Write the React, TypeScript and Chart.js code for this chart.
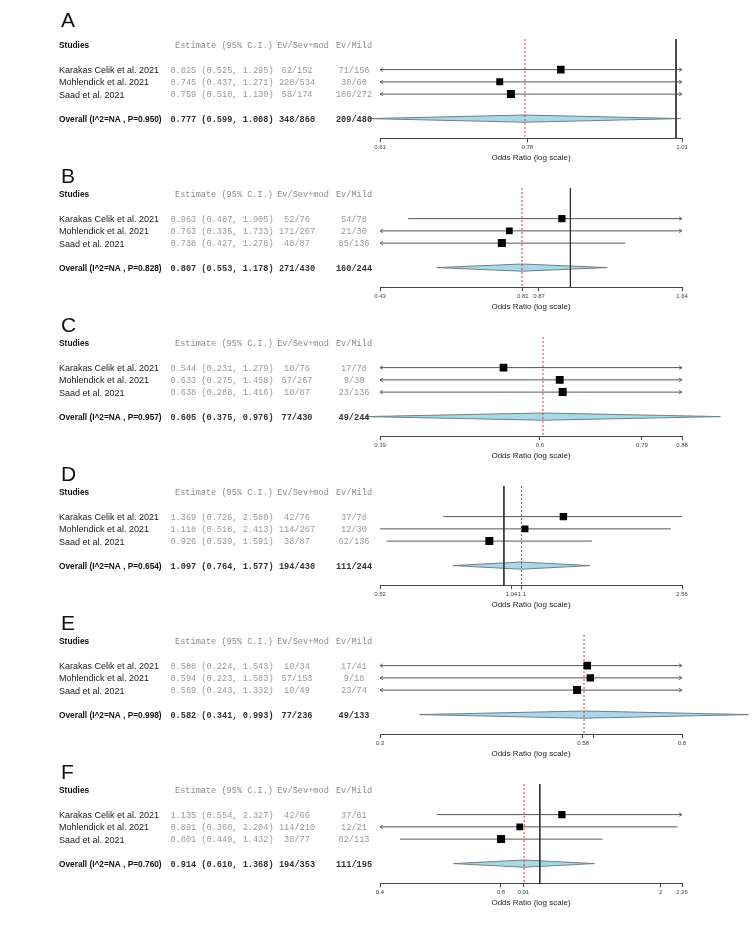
import React, { useEffect, useRef } from 'react';
import { Chart, registerables } from 'chart.js';

Chart.register(...registerables);

// ---------- data ----------
const studyNames = ['Karakas Celik et al. 2021', 'Mohlendick et al. 2021', 'Saad et al. 2021'];
const panelLetters = ['A', 'B', 'C', 'D', 'E', 'F'];
const pValues = ['0.950', '0.828', '0.957', '0.654', '0.998', '0.760'];
const sevHeaders = ['Ev/Sev+mod', 'Ev/Sev+mod', 'Ev/Sev+mod', 'Ev/Sev+mod', 'Ev/Sev+Mod', 'Ev/Sev+mod'];
const showArrows = [true, true, true, false, true, true];

const estimatesA = [0.825, 0.745, 0.759];
const lowerA = [0.525, 0.437, 0.510];
const upperA = [1.295, 1.271, 1.130];
const sevA = ['62/152', '228/534', '58/174'];
const mildA = ['71/156', '30/60', '108/272'];
const overallA = [0.777, 0.599, 1.008];
const overallEventsA = ['348/860', '209/480'];
const ticksA = [0.61, 0.78, 1.01];
const tickLabelsA = ['0.61', '0.78', '1.01'];

const estimatesB = [0.963, 0.763, 0.738];
const lowerB = [0.487, 0.336, 0.427];
const upperB = [1.905, 1.733, 1.276];
const sevB = ['52/76', '171/267', '48/87'];
const mildB = ['54/78', '21/30', '85/136'];
const overallB = [0.807, 0.553, 1.178];
const overallEventsB = ['271/430', '160/244'];
const ticksB = [0.43, 0.81, 0.87, 1.64];
const tickLabelsB = ['0.43', '0.81', '0.87', '1.64'];

const estimatesC = [0.544, 0.633, 0.638];
const lowerC = [0.231, 0.275, 0.288];
const upperC = [1.279, 1.458, 1.416];
const sevC = ['10/76', '57/267', '10/87'];
const mildC = ['17/78', '9/30', '23/136'];
const overallC = [0.605, 0.375, 0.976];
const overallEventsC = ['77/430', '49/244'];
const ticksC = [0.39, 0.6, 0.79, 0.88];
const tickLabelsC = ['0.39', '0.6', '0.79', '0.88'];

const estimatesD = [1.369, 1.118, 0.926];
const lowerD = [0.726, 0.518, 0.539];
const upperD = [2.580, 2.413, 1.591];
const sevD = ['42/76', '114/267', '38/87'];
const mildD = ['37/78', '12/30', '62/136'];
const overallD = [1.097, 0.764, 1.577];
const overallEventsD = ['194/430', '111/244'];
const ticksD = [0.52, 1.04, 1.1, 2.56];
const tickLabelsD = ['0.52', '1.04', '1.1', '2.56'];

const estimatesE = [0.588, 0.594, 0.569];
const lowerE = [0.224, 0.223, 0.243];
const upperE = [1.543, 1.583, 1.332];
const sevE = ['10/34', '57/153', '10/49'];
const mildE = ['17/41', '9/18', '23/74'];
const overallE = [0.582, 0.341, 0.993];
const overallEventsE = ['77/236', '49/133'];
const ticksE = [0.3, 0.58, 0.6, 0.8];
const tickLabelsE = ['0.3', '0.58', '', '0.8'];

const estimatesF = [1.135, 0.891, 0.801];
const lowerF = [0.554, 0.360, 0.449];
const upperF = [2.327, 2.204, 1.432];
const sevF = ['42/66', '114/210', '38/77'];
const mildF = ['37/61', '12/21', '62/113'];
const overallF = [0.914, 0.610, 1.368];
const overallEventsF = ['194/353', '111/195'];
const ticksF = [0.4, 0.8, 0.91, 2, 2.26];
const tickLabelsF = ['0.4', '0.8', '0.91', '2', '2.26'];

const panels = [
  { est: estimatesA, lo: lowerA, hi: upperA, sev: sevA, mild: mildA, ov: overallA, ovEv: overallEventsA, ticks: ticksA, labels: tickLabelsA },
  { est: estimatesB, lo: lowerB, hi: upperB, sev: sevB, mild: mildB, ov: overallB, ovEv: overallEventsB, ticks: ticksB, labels: tickLabelsB },
  { est: estimatesC, lo: lowerC, hi: upperC, sev: sevC, mild: mildC, ov: overallC, ovEv: overallEventsC, ticks: ticksC, labels: tickLabelsC },
  { est: estimatesD, lo: lowerD, hi: upperD, sev: sevD, mild: mildD, ov: overallD, ovEv: overallEventsD, ticks: ticksD, labels: tickLabelsD },
  { est: estimatesE, lo: lowerE, hi: upperE, sev: sevE, mild: mildE, ov: overallE, ovEv: overallEventsE, ticks: ticksE, labels: tickLabelsE },
  { est: estimatesF, lo: lowerF, hi: upperF, sev: sevF, mild: mildF, ov: overallF, ovEv: overallEventsF, ticks: ticksF, labels: tickLabelsF },
];

// ---------- layout / style ----------
const W = 756;
const CANVAS_H = 160;
const PANEL_STEP = 149;
const PANEL_TOP0 = 6;
const Y_MIN = -0.5;
const Y_MAX = 7.6;
const STUDY_ROWS = [2, 3, 4];
const OVERALL_ROW = 6;

const SANS = '"Liberation Sans", Arial, sans-serif';
const MONO = '"Liberation Mono", "Courier New", monospace';

const X_NAME = 59;
const X_EST = 222;
const X_SEV = 297;
const X_MILD = 354;

function makePlugin(idx: number) {
  const p = panels[idx];
  return {
    id: 'forest' + idx,
    beforeDatasetsDraw(chart: any) {
      const { ctx } = chart;
      const xs = chart.scales.x;
      const ys = chart.scales.y;
      const y = ys.getPixelForValue(OVERALL_ROW);
      const xl = xs.getPixelForValue(p.ov[1]);
      const xm = xs.getPixelForValue(p.ov[0]);
      const xr = xs.getPixelForValue(p.ov[2]);
      const h = 3.6;
      ctx.save();
      ctx.beginPath();
      ctx.moveTo(xl, y);
      ctx.lineTo(xm, y - h);
      ctx.lineTo(xr, y);
      ctx.lineTo(xm, y + h);
      ctx.closePath();
      ctx.fillStyle = '#a9d9e8';
      ctx.fill();
      ctx.strokeStyle = '#6f7f85';
      ctx.lineWidth = 1;
      ctx.stroke();
      ctx.restore();
    },
    afterDatasetsDraw(chart: any) {
      if (!showArrows[idx]) return;
      const { ctx, chartArea } = chart;
      const ys = chart.scales.y;
      const mn = p.ticks[0];
      const mx = p.ticks[p.ticks.length - 1];
      ctx.save();
      ctx.strokeStyle = '#555';
      ctx.lineWidth = 0.8;
      STUDY_ROWS.forEach((row, i) => {
        const y = ys.getPixelForValue(row);
        if (p.lo[i] < mn) {
          const x = chartArea.left;
          ctx.beginPath();
          ctx.moveTo(x + 3, y - 1.8);
          ctx.lineTo(x, y);
          ctx.lineTo(x + 3, y + 1.8);
          ctx.stroke();
        }
        if (p.hi[i] > mx) {
          const x = chartArea.right;
          ctx.beginPath();
          ctx.moveTo(x - 3, y - 1.8);
          ctx.lineTo(x, y);
          ctx.lineTo(x - 3, y + 1.8);
          ctx.stroke();
        }
      });
      ctx.restore();
    },
    afterDraw(chart: any) {
      const { ctx } = chart;
      const ys = chart.scales.y;
      const ry = (r: number) => ys.getPixelForValue(r) + 1;
      ctx.save();
      // panel letter
      ctx.fillStyle = '#111';
      ctx.font = `21px ${SANS}`;
      ctx.textAlign = 'left';
      ctx.textBaseline = 'alphabetic';
      const letterLift = idx === 0 ? 18 : 11;
      ctx.fillText(panelLetters[idx], 61, ys.getPixelForValue(0) - letterLift);

      ctx.textBaseline = 'middle';
      // header
      ctx.font = `bold 8.4px ${SANS}`;
      ctx.fillStyle = '#111';
      ctx.fillText('Studies', X_NAME, ry(0));
      ctx.font = `8.6px ${MONO}`;
      ctx.fillStyle = '#8c8c8c';
      ctx.textAlign = 'center';
      ctx.fillText('Estimate (95% C.I.)', X_EST + 2, ry(0));
      ctx.fillText(sevHeaders[idx], X_SEV + 6, ry(0));
      ctx.fillText('Ev/Mild', X_MILD, ry(0));

      // studies
      STUDY_ROWS.forEach((row, i) => {
        const y = ry(row);
        ctx.textAlign = 'left';
        ctx.font = `9px ${SANS}`;
        ctx.fillStyle = '#1a1a1a';
        ctx.fillText(studyNames[i], X_NAME, y);
        ctx.font = `8.6px ${MONO}`;
        ctx.fillStyle = '#999';
        ctx.textAlign = 'center';
        ctx.fillText(`${p.est[i].toFixed(3)} (${p.lo[i].toFixed(3)}, ${p.hi[i].toFixed(3)})`, X_EST, y);
        ctx.fillText(p.sev[i], X_SEV, y);
        ctx.fillText(p.mild[i], X_MILD, y);
      });

      // overall
      const yo = ry(OVERALL_ROW);
      ctx.textAlign = 'left';
      ctx.font = `bold 8.3px ${SANS}`;
      ctx.fillStyle = '#111';
      ctx.fillText(`Overall (I^2=NA , P=${pValues[idx]})`, X_NAME, yo);
      ctx.font = `bold 8.6px ${MONO}`;
      ctx.fillStyle = '#333';
      ctx.textAlign = 'center';
      ctx.fillText(`${p.ov[0].toFixed(3)} (${p.ov[1].toFixed(3)}, ${p.ov[2].toFixed(3)})`, X_EST, yo);
      ctx.fillText(p.ovEv[0], X_SEV, yo);
      ctx.fillText(p.ovEv[1], X_MILD, yo);
      ctx.restore();
    },
  };
}

function buildConfig(idx: number): any {
  const p = panels[idx];
  const mn = p.ticks[0];
  const mx = p.ticks[p.ticks.length - 1];
  const ses = p.lo.map((l, i) => (Math.log(p.hi[i]) - Math.log(l)) / 3.92);
  const weights = ses.map((s) => 1 / (s * s));
  const wmax = Math.max(...weights);
  const radii = weights.map((w) => (4 + 4 * Math.sqrt(w / wmax)) / Math.SQRT2);

  const datasets: any[] = [];
  datasets.push({
    label: 'estimates',
    data: p.est.map((e, i) => ({ x: e, y: STUDY_ROWS[i] })),
    pointStyle: 'rect',
    pointRadius: radii,
    backgroundColor: '#000',
    borderColor: '#000',
    borderWidth: 0,
    showLine: false,
    order: 0,
  });
  p.est.forEach((_, i) => {
    datasets.push({
      label: 'ci' + i,
      data: [{ x: p.lo[i], y: STUDY_ROWS[i] }, { x: p.hi[i], y: STUDY_ROWS[i] }],
      showLine: true,
      pointRadius: 0,
      borderColor: '#555',
      borderWidth: 1,
      order: 3,
    });
  });
  datasets.push({
    label: 'overall',
    data: [{ x: p.ov[0], y: Y_MIN }, { x: p.ov[0], y: Y_MAX }],
    showLine: true,
    pointRadius: 0,
    borderColor: '#d0383a',
    borderDash: [2, 2],
    borderWidth: 1,
    order: 1,
  });
  if (mn < 1 && mx > 1) {
    datasets.push({
      label: 'null',
      data: [{ x: 1, y: Y_MIN }, { x: 1, y: Y_MAX }],
      showLine: true,
      pointRadius: 0,
      borderColor: '#333',
      borderWidth: 1,
      order: 2,
    });
  }

  return {
    type: 'scatter',
    data: { datasets },
    options: {
      animation: false,
      responsive: false,
      events: [],
      layout: { padding: { left: 380, right: 74, top: 33, bottom: 3 } },
      plugins: { legend: { display: false }, tooltip: { enabled: false } },
      scales: {
        x: {
          type: 'logarithmic',
          min: mn,
          max: mx,
          position: 'bottom',
          afterBuildTicks: (s: any) => {
            s.ticks = p.ticks.map((v) => ({ value: v }));
          },
          ticks: {
            autoSkip: false,
            maxRotation: 0,
            minRotation: 0,
            padding: 2,
            font: { size: 6, family: SANS },
            color: '#444',
            callback: (_v: any, i: number) => p.labels[i],
          },
          grid: { drawOnChartArea: false, drawTicks: true, tickLength: 4, color: '#444', lineWidth: 1 },
          border: { display: true, color: '#444', width: 1 },
          title: {
            display: true,
            text: 'Odds Ratio (log scale)',
            font: { size: 8, family: SANS },
            color: '#222',
            padding: { top: 0, bottom: 0 },
          },
        },
        y: { type: 'linear', display: false, min: Y_MIN, max: Y_MAX, reverse: true },
      },
    },
    plugins: [makePlugin(idx)],
  };
}

function ForestPanel({ idx }: { idx: number }) {
  const ref = useRef<HTMLCanvasElement>(null);
  useEffect(() => {
    if (!ref.current) return;
    const chart = new Chart(ref.current, buildConfig(idx));
    return () => chart.destroy();
  }, [idx]);
  return (
    <canvas
      ref={ref}
      width={W}
      height={CANVAS_H}
      style={{ position: 'absolute', left: 0, top: PANEL_TOP0 + PANEL_STEP * idx, width: W, height: CANVAS_H }}
    />
  );
}

export default function App() {
  return (
    <div style={{ position: 'absolute', left: 0, top: 0, width: W, height: 940, background: '#fff', overflow: 'hidden' }}>
      {panels.map((_, i) => (
        <ForestPanel key={i} idx={i} />
      ))}
    </div>
  );
}
